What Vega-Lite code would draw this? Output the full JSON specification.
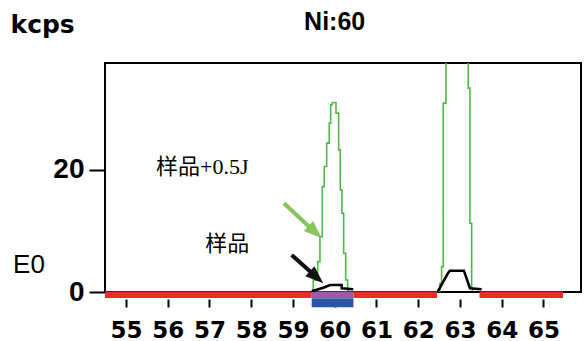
{
  "$schema": "https://vega.github.io/schema/vega-lite/v6.json",
  "width": 476,
  "height": 229,
  "autosize": {"type": "none"},
  "padding": {"left": 105, "top": 63, "right": 4, "bottom": 49},
  "background": "white",
  "config": {
    "view": {"stroke": "black", "strokeWidth": 2},
    "axis": {"grid": false}
  },
  "datasets": {
    "bands": [
      {"x": 54.5, "x2": 59.45, "kind": "background"},
      {"x": 59.45, "x2": 60.45, "kind": "peak"},
      {"x": 60.45, "x2": 62.45, "kind": "background"},
      {"x": 63.47, "x2": 65.47, "kind": "background"}
    ],
    "roi": [{"x": 59.45, "x2": 60.45}],
    "green": [
      {"peak": "Ni", "x": 59.47, "y": 0.15},
      {"peak": "Ni", "x": 59.488, "y": 1.97},
      {"peak": "Ni", "x": 59.593, "y": 4.97},
      {"peak": "Ni", "x": 59.648, "y": 9.07},
      {"peak": "Ni", "x": 59.704, "y": 17.26},
      {"peak": "Ni", "x": 59.751, "y": 20.54},
      {"peak": "Ni", "x": 59.809, "y": 24.38},
      {"peak": "Ni", "x": 59.871, "y": 27.66},
      {"peak": "Ni", "x": 59.905, "y": 30.66},
      {"peak": "Ni", "x": 59.943, "y": 31.03},
      {"peak": "Ni", "x": 60.032, "y": 29.3},
      {"peak": "Ni", "x": 60.096, "y": 23.28},
      {"peak": "Ni", "x": 60.135, "y": 16.72},
      {"peak": "Ni", "x": 60.175, "y": 12.9},
      {"peak": "Ni", "x": 60.216, "y": 6.34},
      {"peak": "Ni", "x": 60.264, "y": 1.97},
      {"peak": "Ni", "x": 60.312, "y": 0.33},
      {"peak": "Ni", "x": 60.33, "y": 0.15},
      {"peak": "B", "x": 62.46, "y": 0.15},
      {"peak": "B", "x": 62.522, "y": 1.43},
      {"peak": "B", "x": 62.562, "y": 4.15},
      {"peak": "B", "x": 62.601, "y": 30.93},
      {"peak": "B", "x": 62.665, "y": 90},
      {"peak": "B", "x": 63.2, "y": 33.39},
      {"peak": "B", "x": 63.24, "y": 11.26},
      {"peak": "B", "x": 63.281, "y": 0.61},
      {"peak": "B", "x": 63.3, "y": 0.15}
    ],
    "black": [
      {"peak": "Ni", "x": 59.45, "y": 0.2},
      {"peak": "Ni", "x": 59.488, "y": 0.21},
      {"peak": "Ni", "x": 59.727, "y": 0.7},
      {"peak": "Ni", "x": 59.888, "y": 1.15},
      {"peak": "Ni", "x": 60.168, "y": 1.15},
      {"peak": "Ni", "x": 60.17, "y": 0.61},
      {"peak": "Ni", "x": 60.446, "y": 0.44},
      {"peak": "B", "x": 62.45, "y": 0.2},
      {"peak": "B", "x": 62.481, "y": 0.21},
      {"peak": "B", "x": 62.721, "y": 3.16},
      {"peak": "B", "x": 62.761, "y": 3.49},
      {"peak": "B", "x": 63.096, "y": 3.49},
      {"peak": "B", "x": 63.24, "y": 0.61},
      {"peak": "B", "x": 63.52, "y": 0.44}
    ],
    "arrows": [
      {"series": "sample+0.5J", "x": 58.786, "y": 14.54, "x2": 59.513, "y2": 9.92, "tx": 59.689, "ty": 8.8},
      {"series": "sample", "x": 58.971, "y": 6.07, "x2": 59.549, "y2": 2.52, "tx": 59.727, "ty": 1.43}
    ],
    "notes": [
      {"x": 56.83, "y": 20.5, "text": "样品+0.5J"},
      {"x": 57.43, "y": 7.87, "text": "样品"}
    ],
    "e0": [{"x": 52.68, "y": 4.5, "text": "E0"}],
    "heading": [{"x": 60.0, "y": 42.95, "text": "Ni:60"}]
  },
  "layer": [
    {
      "data": {"name": "bands"},
      "mark": {"type": "rule", "strokeWidth": 6.7, "strokeCap": "butt"},
      "encoding": {
        "x": {"field": "x", "type": "quantitative", "scale": {"domain": [54.5, 65.9], "nice": false, "zero": false}},
        "x2": {"field": "x2"},
        "y": {"datum": -0.45, "type": "quantitative", "scale": {"domain": [0, 37.5], "nice": false, "zero": false}},
        "color": {
          "field": "kind",
          "type": "nominal",
          "scale": {"domain": ["background", "peak"], "range": ["#ec2a2c", "#9c5ba8"]},
          "legend": null
        }
      }
    },
    {
      "data": {"name": "roi"},
      "mark": {"type": "rule", "color": "#2b56a6", "strokeWidth": 9, "strokeCap": "butt"},
      "encoding": {
        "x": {"field": "x", "type": "quantitative", "scale": {"domain": [54.5, 65.9], "nice": false, "zero": false}},
        "x2": {"field": "x2"},
        "y": {"datum": -1.75, "type": "quantitative", "scale": {"domain": [0, 37.5], "nice": false, "zero": false}}
      }
    },
    {
      "data": {"name": "green"},
      "mark": {"type": "line", "interpolate": "step-after", "color": "#4db848", "strokeWidth": 1.6, "clip": true},
      "encoding": {
        "x": {
          "field": "x",
          "type": "quantitative",
          "scale": {"domain": [54.5, 65.9], "nice": false, "zero": false},
          "axis": {
            "title": null,
            "values": [55, 56, 57, 58, 59, 60, 61, 62, 63, 64, 65],
            "offset": 7,
            "domain": false,
            "grid": false,
            "tickSize": 8,
            "tickWidth": 2,
            "tickColor": "black",
            "labelFont": "DejaVu Sans",
            "labelFontWeight": "bold",
            "labelFontSize": 23,
            "labelColor": "black",
            "labelPadding": 12,
            "labelFlush": false,
            "labelOverlap": false
          }
        },
        "y": {
          "field": "y",
          "type": "quantitative",
          "scale": {"domain": [0, 37.5], "nice": false, "zero": false},
          "axis": {
            "title": "kcps",
            "titleAngle": 0,
            "titleAlign": "left",
            "titleBaseline": "alphabetic",
            "titleX": -95,
            "titleY": -31,
            "titleFont": "DejaVu Sans",
            "titleFontWeight": "bold",
            "titleFontSize": 25,
            "titleColor": "black",
            "values": [0, 20],
            "domain": false,
            "grid": false,
            "tickSize": 16,
            "tickWidth": 2,
            "tickColor": "black",
            "labelFont": "Liberation Sans",
            "labelFontWeight": "bold",
            "labelFontSize": 28,
            "labelColor": "black",
            "labelPadding": 5,
            "labelFlush": false,
            "labelOverlap": false
          }
        },
        "detail": {"field": "peak", "type": "nominal"}
      }
    },
    {
      "data": {"name": "black"},
      "mark": {"type": "line", "color": "black", "strokeWidth": 2.6},
      "encoding": {
        "x": {"field": "x", "type": "quantitative", "scale": {"domain": [54.5, 65.9], "nice": false, "zero": false}},
        "y": {"field": "y", "type": "quantitative", "scale": {"domain": [0, 37.5], "nice": false, "zero": false}},
        "detail": {"field": "peak", "type": "nominal"}
      }
    },
    {
      "data": {"name": "arrows"},
      "transform": [{"filter": "datum.series == 'sample+0.5J'"}],
      "mark": {"type": "rule", "color": "#86c45e", "strokeWidth": 4},
      "encoding": {
        "x": {"field": "x", "type": "quantitative", "scale": {"domain": [54.5, 65.9], "nice": false, "zero": false}},
        "y": {"field": "y", "type": "quantitative", "scale": {"domain": [0, 37.5], "nice": false, "zero": false}},
        "x2": {"field": "x2"},
        "y2": {"field": "y2"}
      }
    },
    {
      "data": {"name": "arrows"},
      "transform": [{"filter": "datum.series == 'sample+0.5J'"}],
      "mark": {"type": "point", "shape": "M0,0L0.75,2L-0.75,2Z", "size": 324, "filled": true, "opacity": 1, "strokeWidth": 0, "color": "#86c45e", "angle": 133},
      "encoding": {
        "x": {"field": "tx", "type": "quantitative", "scale": {"domain": [54.5, 65.9], "nice": false, "zero": false}},
        "y": {"field": "ty", "type": "quantitative", "scale": {"domain": [0, 37.5], "nice": false, "zero": false}}
      }
    },
    {
      "data": {"name": "arrows"},
      "transform": [{"filter": "datum.series == 'sample'"}],
      "mark": {"type": "rule", "color": "#111111", "strokeWidth": 4},
      "encoding": {
        "x": {"field": "x", "type": "quantitative", "scale": {"domain": [54.5, 65.9], "nice": false, "zero": false}},
        "y": {"field": "y", "type": "quantitative", "scale": {"domain": [0, 37.5], "nice": false, "zero": false}},
        "x2": {"field": "x2"},
        "y2": {"field": "y2"}
      }
    },
    {
      "data": {"name": "arrows"},
      "transform": [{"filter": "datum.series == 'sample'"}],
      "mark": {"type": "point", "shape": "M0,0L0.75,2L-0.75,2Z", "size": 324, "filled": true, "opacity": 1, "strokeWidth": 0, "color": "#111111", "angle": 132},
      "encoding": {
        "x": {"field": "tx", "type": "quantitative", "scale": {"domain": [54.5, 65.9], "nice": false, "zero": false}},
        "y": {"field": "ty", "type": "quantitative", "scale": {"domain": [0, 37.5], "nice": false, "zero": false}}
      }
    },
    {
      "data": {"name": "notes"},
      "mark": {"type": "text", "font": "Liberation Serif, 'Noto Sans CJK SC'", "fontSize": 22, "color": "black", "align": "center", "baseline": "middle"},
      "encoding": {
        "x": {"field": "x", "type": "quantitative", "scale": {"domain": [54.5, 65.9], "nice": false, "zero": false}},
        "y": {"field": "y", "type": "quantitative", "scale": {"domain": [0, 37.5], "nice": false, "zero": false}},
        "text": {"field": "text"}
      }
    },
    {
      "data": {"name": "e0"},
      "mark": {"type": "text", "font": "Liberation Sans", "fontSize": 26, "color": "black", "align": "center", "baseline": "middle"},
      "encoding": {
        "x": {"field": "x", "type": "quantitative", "scale": {"domain": [54.5, 65.9], "nice": false, "zero": false}},
        "y": {"field": "y", "type": "quantitative", "scale": {"domain": [0, 37.5], "nice": false, "zero": false}},
        "text": {"field": "text"}
      }
    },
    {
      "data": {"name": "heading"},
      "mark": {"type": "text", "font": "Liberation Sans", "fontWeight": "bold", "fontSize": 25, "color": "black", "align": "center", "baseline": "alphabetic"},
      "encoding": {
        "x": {"field": "x", "type": "quantitative", "scale": {"domain": [54.5, 65.9], "nice": false, "zero": false}},
        "y": {"field": "y", "type": "quantitative", "scale": {"domain": [0, 37.5], "nice": false, "zero": false}},
        "text": {"field": "text"}
      }
    }
  ]
}
